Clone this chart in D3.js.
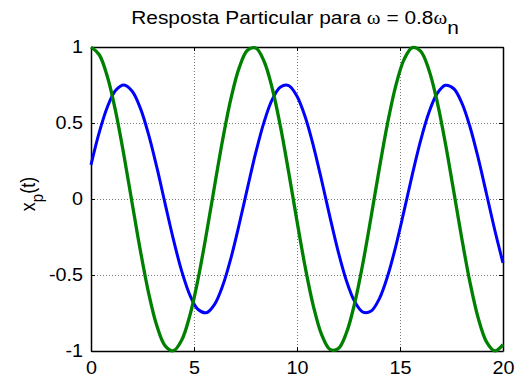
<!DOCTYPE html>
<html>
<head>
<meta charset="utf-8">
<script src="https://cdn.jsdelivr.net/npm/d3@7"></script>
<style>
  html, body { margin: 0; padding: 0; background: #fff; }
  svg { display: block; }
  text { font-family: "Liberation Sans", Arial, Helvetica, sans-serif; fill: #000; }
</style>
</head>
<body>
<svg id="chart" width="520" height="379"></svg>
<script>
// ---- data ----
const timeValues = [0,0.4,0.8,1.2,1.6,2,2.4,2.8,3.2,3.6,4,4.4,4.8,5.2,5.6,6,6.4,6.8,7.2,7.6,8,8.4,8.8,9.2,9.6,10,10.4,10.8,11.2,11.6,12,12.4,12.8,13.2,13.6,14,14.4,14.8,15.2,15.6,16,16.4,16.8,17.2,17.6,18,18.4,18.8,19.2,19.6,20];
const blueSeries = [0.224,0.438,0.607,0.715,0.750,0.709,0.596,0.422,0.206,-0.032,-0.266,-0.473,-0.632,-0.727,-0.748,-0.693,-0.568,-0.385,-0.163,0.075,0.306,0.506,0.655,0.737,0.746,0.676,0.539,0.347,0.120,-0.119,-0.346,-0.538,-0.675,-0.744,-0.737,-0.655,-0.507,-0.308,-0.077,0.162,0.384,0.567,0.693,0.748,0.727,0.633,0.474,0.267,0.033,-0.204,-0.421];
const greenSeries = [1,0.9492,0.8021,0.5735,0.2867,-0.0292,-0.3421,-0.6204,-0.8356,-0.9660,-0.9983,-0.9293,-0.7659,-0.5247,-0.2303,0.0875,0.3964,0.6651,0.8662,0.9794,0.9932,0.9061,0.7270,0.4741,0.1731,-0.1455,-0.4493,-0.7075,-0.8939,-0.9895,-0.9847,-0.8799,-0.6857,-0.4219,-0.1153,0.2030,0.5007,0.7476,0.9186,0.9963,0.9728,0.8506,0.6420,0.3683,0.0571,-0.2598,-0.5504,-0.7851,-0.9401,-0.9996,-0.9577];
const xTicks = [0,5,10,15,20];
const yTicks = [-1,-0.5,0,0.5,1];
const xTickLabels = ["0","5","10","15","20"];
const yTickLabels = ["-1","-0.5","0","0.5","1"];

// ---- layout ----
const L = 91, R = 503, T = 47, B = 351;
const SX = 1.13; // horizontal stretch of glyphs in the reference
const svg = d3.select("#chart");
const x = d3.scaleLinear().domain([0, 20]).range([L, R]);
const y = d3.scaleLinear().domain([-1, 1]).range([B, T]);

// grid
const grid = svg.append("g").attr("stroke", "#555").attr("stroke-width", 0.8)
  .attr("stroke-dasharray", "1,2").attr("fill", "none");
grid.selectAll("line.gx").data(xTicks.slice(1, -1)).join("line")
  .attr("x1", d => Math.round(x(d)) + 0.5).attr("x2", d => Math.round(x(d)) + 0.5)
  .attr("y1", T).attr("y2", B);
grid.selectAll("line.gy").data(yTicks.slice(1, -1)).join("line")
  .attr("y1", d => Math.round(y(d)) + 0.5).attr("y2", d => Math.round(y(d)) + 0.5)
  .attr("x1", L).attr("x2", R);

// axes
function styleAxis(g) {
  g.selectAll("path.domain").attr("stroke", "#000").attr("stroke-width", 1.5);
  g.selectAll(".tick line").attr("stroke", "#000").attr("stroke-width", 1);
}
const fs = 17.5;
const gB = svg.append("g").attr("transform", `translate(0,${B})`)
  .call(d3.axisBottom(x).tickValues(xTicks).tickSizeInner(-4).tickSizeOuter(0).tickPadding(11)
    .tickFormat((d, i) => xTickLabels[i]));
const gL = svg.append("g").attr("transform", `translate(${L},0)`)
  .call(d3.axisLeft(y).tickValues(yTicks).tickSizeInner(-4).tickSizeOuter(0).tickPadding(8)
    .tickFormat((d, i) => yTickLabels[i]));
const gT = svg.append("g").attr("transform", `translate(0,${T})`)
  .call(d3.axisTop(x).tickValues(xTicks).tickSizeInner(-4).tickSizeOuter(0).tickFormat(""));
const gR = svg.append("g").attr("transform", `translate(${R},0)`)
  .call(d3.axisRight(y).tickValues(yTicks).tickSizeInner(-4).tickSizeOuter(0).tickFormat(""));
[gB, gL, gT, gR].forEach(styleAxis);
[gB, gL].forEach(g => g.selectAll("text")
  .attr("font-size", fs).attr("font-family", "'Liberation Sans', Arial, sans-serif")
  .attr("fill", "#000").attr("transform", `scale(${SX},1)`));
gL.selectAll("text").attr("x", -8 / SX);

// lines
const line = d3.line().x((d, i) => x(timeValues[i])).y(d => y(d)).curve(d3.curveCatmullRom.alpha(0.5));
svg.append("path").datum(blueSeries).attr("d", line)
  .attr("fill", "none").attr("stroke", "#0000ff").attr("stroke-width", 3).attr("stroke-linejoin", "round");
svg.append("path").datum(greenSeries).attr("d", line)
  .attr("fill", "none").attr("stroke", "#008000").attr("stroke-width", 3.3).attr("stroke-linejoin", "round");

// title
const title = svg.append("g").attr("transform", `translate(${(L + R) / 2 - 2},24) scale(${SX},1)`)
  .append("text").attr("text-anchor", "middle").attr("font-size", 18.5);
title.append("tspan").text("Resposta Particular para ");
title.append("tspan").attr("font-family", "'Liberation Serif', 'Times New Roman', serif").text("ω");
title.append("tspan").text(" = 0.8");
title.append("tspan").attr("font-family", "'Liberation Serif', 'Times New Roman', serif").text("ω");
title.append("tspan").attr("dy", 10).text("n");

// y label
const yl = svg.append("g").attr("transform", `translate(35,194) scale(${SX},1) rotate(-90)`)
  .append("text").attr("text-anchor", "middle").attr("font-size", 18);
yl.append("tspan").text("x");
yl.append("tspan").attr("dy", 7).attr("font-size", 15).text("p");
yl.append("tspan").attr("dy", -7).text("(t)");
</script>
</body>
</html>
